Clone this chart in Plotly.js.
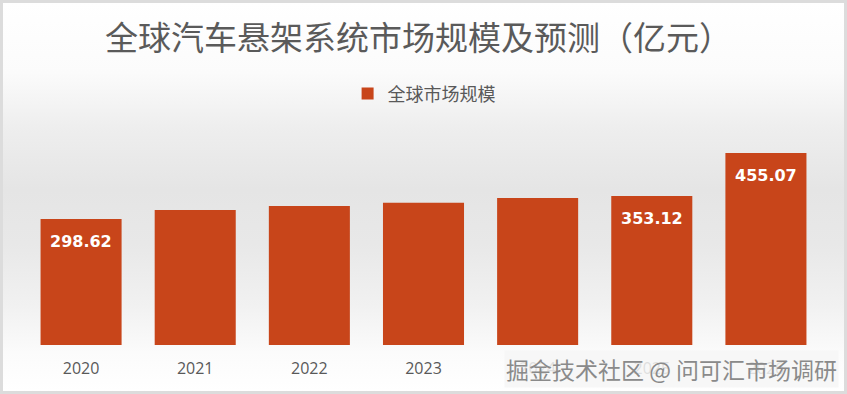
<!DOCTYPE html>
<html>
<head>
<meta charset="utf-8">
<script src="https://cdn.plot.ly/plotly-3.0.1.min.js"></script>
<style>
  html, body { margin: 0; padding: 0; }
  body { width: 847px; height: 394px; overflow: hidden; }
  #frame {
    position: relative; width: 847px; height: 394px; box-sizing: border-box;
    border: 3px solid #dcdcdc;
    background: linear-gradient(to bottom, #ffffff 0%, #fbfbfb 18%, #eeeeee 32%, #e5e5e5 48%, #e8e8e8 62%, #f1f1f1 78%, #fbfbfb 90%, #ffffff 100%);
  }
  #chart { position: absolute; left: -3px; top: -3px; width: 847px; height: 394px; }
</style>
</head>
<body>
<div id="frame"><div id="chart"></div></div>
<script>
// Data
const years = ['2020', '2021', '2022', '2023', '2024', '2025', '2026'];
const marketSize = [298.62, 320.0, 329.5, 337.3, 348.4, 353.12, 455.07];
const labelled = [true, false, false, false, false, true, true];
const seriesName = '全球市场规模';
const chartTitle = '全球汽车悬架系统市场规模及预测（亿元）';
const watermark = '掘金技术社区 @ 问可汇市场调研';

const cjk = '"Noto Sans CJK SC", "Noto Sans", sans-serif';
const barColor = '#c8451a';

// value labels, positioned by category index on the category axis
const labelAnnotations = marketSize
  .map((v, i) => ({ i, v, show: labelled[i] }))
  .filter(d => d.show)
  .map(d => ({
    x: d.i, y: d.v, xref: 'x', yref: 'y',
    text: '<b>' + d.v.toFixed(2) + '</b>',
    showarrow: false, yanchor: 'top', yshift: -11,
    font: { family: '"DejaVu Sans", Verdana, sans-serif', size: 16, color: '#ffffff' }
  }));

const trace = {
  type: 'bar',
  x: years,
  y: marketSize,
  name: seriesName,
  marker: { color: barColor, line: { width: 0 } },
  hoverinfo: 'x+y'
};

const layout = {
  width: 847, height: 394,
  margin: { l: 24, r: 24, t: 134, b: 49, pad: 0 },
  paper_bgcolor: 'rgba(0,0,0,0)',
  plot_bgcolor: 'rgba(0,0,0,0)',
  bargap: 0.29,
  title: {
    text: chartTitle,
    x: 0.494, xref: 'container', xanchor: 'center',
    y: 0.903, yref: 'container', yanchor: 'middle',
    font: { family: cjk, size: 33, color: '#5a5a5a' }
  },
  showlegend: true,
  legend: {
    orientation: 'h',
    x: 0.405, xanchor: 'left',
    y: 1.19, yanchor: 'middle',
    bgcolor: 'rgba(0,0,0,0)',
    font: { family: cjk, size: 18, color: '#595959' }
  },
  xaxis: {
    type: 'category',
    range: [-0.5, years.length - 0.5],
    showgrid: false, zeroline: false, showline: false,
    ticks: '', ticklabelstandoff: 12,
    tickfont: { family: '"Open Sans", "Liberation Sans", sans-serif', size: 16, color: '#595959' }
  },
  yaxis: {
    range: [0, 500],
    showgrid: false, zeroline: false, showline: false,
    showticklabels: false, ticks: ''
  },
  annotations: labelAnnotations.concat([{
    xref: 'paper', yref: 'paper', x: 1.02, y: -0.115,
    xanchor: 'right', yanchor: 'middle',
    text: watermark, showarrow: false,
    bgcolor: 'rgba(246,246,246,0.85)',
    font: { family: cjk, size: 23, color: '#8a8a8a' }
  }])
};

Plotly.newPlot('chart', [trace], layout, { displayModeBar: false, staticPlot: true });
</script>
</body>
</html>
